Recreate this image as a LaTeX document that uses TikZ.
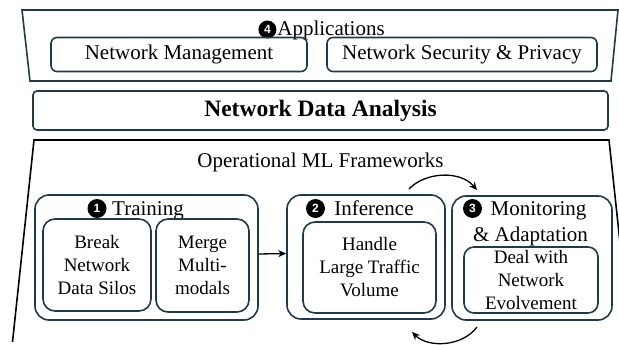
\documentclass[tikz,border=0pt]{standalone}
\usepackage{fontspec}
\setmainfont{Liberation Serif}
\newfontfamily\numfont{Liberation Sans}
\usetikzlibrary{arrows.meta}
\definecolor{boxc}{HTML}{1E3A4C}
\begin{document}
\begin{tikzpicture}[x=1pt,y=-1pt,
  box/.style={draw=boxc, line width=1.6pt, rounded corners=#1, inner sep=0pt, align=center},
  box/.default=10pt,
  hdr/.style={font=\fontsize{21}{26}\selectfont, inner sep=0pt},
  inner/.style={font=\fontsize{19}{23}\selectfont},
  numc/.style={circle, fill=black, text=white, inner sep=0pt, minimum size=19pt, font=\numfont\bfseries\fontsize{12}{12}\selectfont},
  arr/.style={line width=1.3pt, -{Stealth[length=8pt,width=7pt]}}
]
\clip (0,0) rectangle (619,345);
\fill[white] (0,0) rectangle (619,345);
% Applications layer
\draw[draw=boxc, line width=1.6pt] (22,10) -- (618,10) -- (611,81) -- (30,81) -- cycle;
\node[hdr, anchor=base] (app) at (331,36) {Applications};
\node[numc, minimum size=18pt, anchor=east] (n4) at ([xshift=-0.5pt,yshift=6.5pt]app.base west) {4};
\node[box=6pt, minimum width=256pt, minimum height=34pt, hdr] (nm) at (179,54.5) {Network Management};
\node[box=6pt, minimum width=270pt, minimum height=34pt, hdr] (ns) at (462,54.5) {Network Security \& Privacy};
% Data analysis
\node[box=4pt, minimum width=575pt, minimum height=39pt, font=\fontsize{23.5}{28}\selectfont\bfseries] (nda) at (320.5,110.5) {Network Data Analysis};
% ML frameworks
\draw[line width=1.6pt] (12.5,342) -- (34,140) -- (609,140) -- (631,345);
\node[hdr, anchor=base] (oml) at (320.5,167) {Operational ML Frameworks};
% Training
\node[box=14pt, minimum width=223pt, minimum height=125pt] (tr) at (146.5,257.5) {};
\node[hdr, anchor=base] (trh) at (148,215) {Training};
\node[numc] (n1) at (97,208.5) {1};
\node[box=12pt, minimum width=108pt, minimum height=92pt, inner] (br) at (97,265) {Break\\Network\\Data Silos};
\node[box=12pt, minimum width=93pt, minimum height=93pt, inner] (mg) at (202.5,265.5) {Merge\\Multi-\\modals};
% Inference
\node[box=14pt, minimum width=158pt, minimum height=124pt] (inf) at (366,257) {};
\node[hdr, anchor=base] (infh) at (374,215) {Inference};
\node[numc] (n2) at (315.5,208.5) {2};
\node[box=12pt, minimum width=133pt, minimum height=91pt, inner] (hd) at (369.5,267.5) {Handle\\Large Traffic\\Volume};
% Monitoring
\node[box=14pt, minimum width=160pt, minimum height=124pt] (mon) at (532,258) {};
\node[hdr, anchor=base] (monh) at (538.5,215) {Monitoring};
\node[numc] (n3) at (472.5,208.5) {3};
\node[hdr, anchor=base] (adp) at (530.5,241) {\& Adaptation};
\node[box=10pt, minimum width=134pt, minimum height=66pt, inner] (dl) at (531,280) {Deal with\\Network\\Evolvement};
% connectors
\draw[arr] ([yshift=3.5pt]tr.east) -- ([yshift=3.5pt]inf.west);
\coordinate (ta) at (409,189);
\coordinate (tb) at (477,190);
\coordinate (ba) at (477,327);
\coordinate (bb) at (412,332);
\draw[arr] (ta) .. controls (425,172) and (460,170) .. (tb);
\draw[arr] (ba) .. controls (462,347) and (428,348) .. (bb);
\end{tikzpicture}
\end{document}
